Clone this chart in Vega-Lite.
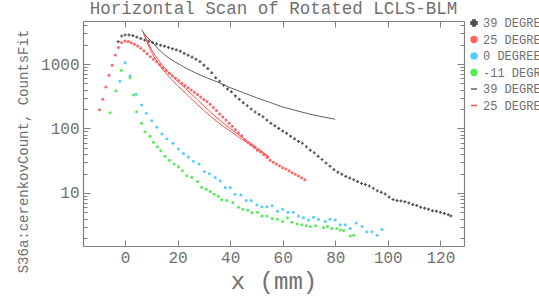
{
"$schema": "https://vega.github.io/schema/vega-lite/v6.json",
"width": 381, "height": 225,
"autosize": "none",
"padding": {"left": 83, "top": 21, "right": 75, "bottom": 50},
"background": "white",
"title": {"text": "Horizontal Scan of Rotated LCLS-BLM", "font": "Liberation Mono", "fontSize": 17.5, "fontWeight": "normal", "color": "#707070", "offset": 0, "anchor": "middle"},
"datasets": {
"pts": [
{"s":"39 DEGREE","x":-2.6,"y":2220},{"s":"39 DEGREE","x":-1.3,"y":2720},{"s":"39 DEGREE","x":0,"y":2820},{"s":"39 DEGREE","x":1.5,"y":2830},{"s":"39 DEGREE","x":3,"y":2760},{"s":"39 DEGREE","x":4.5,"y":2620},{"s":"39 DEGREE","x":6,"y":2480},{"s":"39 DEGREE","x":7.5,"y":2350},{"s":"39 DEGREE","x":9,"y":2250},{"s":"39 DEGREE","x":10.5,"y":2150},{"s":"39 DEGREE","x":12,"y":2060},{"s":"39 DEGREE","x":13.5,"y":1960},{"s":"39 DEGREE","x":15,"y":1890},{"s":"39 DEGREE","x":16.5,"y":1810},{"s":"39 DEGREE","x":18,"y":1730},{"s":"39 DEGREE","x":19.5,"y":1660},{"s":"39 DEGREE","x":21,"y":1580},{"s":"39 DEGREE","x":22.5,"y":1460},{"s":"39 DEGREE","x":24,"y":1370},{"s":"39 DEGREE","x":25.5,"y":1280},{"s":"39 DEGREE","x":27,"y":1190},{"s":"39 DEGREE","x":28.5,"y":1090},{"s":"39 DEGREE","x":30,"y":960},{"s":"39 DEGREE","x":31.5,"y":850},{"s":"39 DEGREE","x":33,"y":730},{"s":"39 DEGREE","x":34.5,"y":610},{"s":"39 DEGREE","x":36,"y":540},{"s":"39 DEGREE","x":37.5,"y":470},{"s":"39 DEGREE","x":39,"y":410},{"s":"39 DEGREE","x":40.5,"y":370},{"s":"39 DEGREE","x":42,"y":320},{"s":"39 DEGREE","x":43.5,"y":283},{"s":"39 DEGREE","x":45,"y":250},{"s":"39 DEGREE","x":46.5,"y":225},{"s":"39 DEGREE","x":48,"y":200},{"s":"39 DEGREE","x":49.5,"y":180},{"s":"39 DEGREE","x":51,"y":165},{"s":"39 DEGREE","x":52.5,"y":152},{"s":"39 DEGREE","x":54,"y":135},{"s":"39 DEGREE","x":55.5,"y":120},{"s":"39 DEGREE","x":57,"y":110},{"s":"39 DEGREE","x":58.5,"y":100},{"s":"39 DEGREE","x":60,"y":91},{"s":"39 DEGREE","x":61.5,"y":84},{"s":"39 DEGREE","x":63,"y":76},{"s":"39 DEGREE","x":64.5,"y":69},{"s":"39 DEGREE","x":66,"y":63},{"s":"39 DEGREE","x":67.5,"y":59},{"s":"39 DEGREE","x":69,"y":52},{"s":"39 DEGREE","x":70.5,"y":46},{"s":"39 DEGREE","x":72,"y":42},{"s":"39 DEGREE","x":73.5,"y":37},{"s":"39 DEGREE","x":75,"y":33},{"s":"39 DEGREE","x":76.5,"y":29},{"s":"39 DEGREE","x":78,"y":26},{"s":"39 DEGREE","x":79.5,"y":23},{"s":"39 DEGREE","x":81,"y":21},{"s":"39 DEGREE","x":82.5,"y":19.5},{"s":"39 DEGREE","x":84,"y":18},{"s":"39 DEGREE","x":85.5,"y":17},{"s":"39 DEGREE","x":87,"y":16},{"s":"39 DEGREE","x":88.5,"y":15},{"s":"39 DEGREE","x":90,"y":14},{"s":"39 DEGREE","x":91.5,"y":13.5},{"s":"39 DEGREE","x":93,"y":12.8},{"s":"39 DEGREE","x":94.5,"y":11.8},{"s":"39 DEGREE","x":96,"y":10.8},{"s":"39 DEGREE","x":97.5,"y":10.2},{"s":"39 DEGREE","x":99,"y":9.6},{"s":"39 DEGREE","x":100.5,"y":8.6},{"s":"39 DEGREE","x":102,"y":7.9},{"s":"39 DEGREE","x":103.5,"y":7.6},{"s":"39 DEGREE","x":105,"y":7.5},{"s":"39 DEGREE","x":106.5,"y":7.3},{"s":"39 DEGREE","x":108,"y":7.0},{"s":"39 DEGREE","x":109.5,"y":6.6},{"s":"39 DEGREE","x":111,"y":6.4},{"s":"39 DEGREE","x":112.5,"y":6.0},{"s":"39 DEGREE","x":114,"y":5.8},{"s":"39 DEGREE","x":115.5,"y":5.6},{"s":"39 DEGREE","x":117,"y":5.3},{"s":"39 DEGREE","x":118.5,"y":5.2},{"s":"39 DEGREE","x":120,"y":5.0},{"s":"39 DEGREE","x":121.5,"y":4.8},{"s":"39 DEGREE","x":123,"y":4.6},{"s":"39 DEGREE","x":124,"y":4.4},
{"s":"25 DEGREE","x":-9.7,"y":195},{"s":"25 DEGREE","x":-8.5,"y":285},{"s":"25 DEGREE","x":-7.3,"y":440},{"s":"25 DEGREE","x":-6.1,"y":670},{"s":"25 DEGREE","x":-4.9,"y":960},{"s":"25 DEGREE","x":-3.7,"y":1380},{"s":"25 DEGREE","x":-2.5,"y":1800},{"s":"25 DEGREE","x":-1.3,"y":2150},{"s":"25 DEGREE","x":0,"y":2280},{"s":"25 DEGREE","x":1.2,"y":2230},{"s":"25 DEGREE","x":2.4,"y":2130},{"s":"25 DEGREE","x":3.6,"y":2020},{"s":"25 DEGREE","x":4.8,"y":1900},{"s":"25 DEGREE","x":6,"y":1760},{"s":"25 DEGREE","x":7.2,"y":1600},{"s":"25 DEGREE","x":8.4,"y":1440},{"s":"25 DEGREE","x":9.6,"y":1300},{"s":"25 DEGREE","x":10.8,"y":1190},{"s":"25 DEGREE","x":12,"y":1080},{"s":"25 DEGREE","x":13.2,"y":970},{"s":"25 DEGREE","x":14.4,"y":870},{"s":"25 DEGREE","x":15.6,"y":790},{"s":"25 DEGREE","x":16.8,"y":720},{"s":"25 DEGREE","x":18,"y":660},{"s":"25 DEGREE","x":19.2,"y":605},{"s":"25 DEGREE","x":20.4,"y":555},{"s":"25 DEGREE","x":21.6,"y":505},{"s":"25 DEGREE","x":22.8,"y":465},{"s":"25 DEGREE","x":24,"y":430},{"s":"25 DEGREE","x":25.2,"y":395},{"s":"25 DEGREE","x":26.4,"y":365},{"s":"25 DEGREE","x":27.6,"y":335},{"s":"25 DEGREE","x":28.8,"y":308},{"s":"25 DEGREE","x":30,"y":282},{"s":"25 DEGREE","x":31.2,"y":262},{"s":"25 DEGREE","x":32.4,"y":238},{"s":"25 DEGREE","x":33.6,"y":212},{"s":"25 DEGREE","x":34.8,"y":190},{"s":"25 DEGREE","x":36,"y":168},{"s":"25 DEGREE","x":37.2,"y":150},{"s":"25 DEGREE","x":38.4,"y":135},{"s":"25 DEGREE","x":39.6,"y":120},{"s":"25 DEGREE","x":40.8,"y":108},{"s":"25 DEGREE","x":42,"y":96},{"s":"25 DEGREE","x":43.2,"y":86},{"s":"25 DEGREE","x":44.4,"y":77},{"s":"25 DEGREE","x":45.6,"y":67},{"s":"25 DEGREE","x":46.8,"y":61},{"s":"25 DEGREE","x":48,"y":56},{"s":"25 DEGREE","x":49.2,"y":51},{"s":"25 DEGREE","x":50.4,"y":46},{"s":"25 DEGREE","x":51.6,"y":43},{"s":"25 DEGREE","x":52.8,"y":39},{"s":"25 DEGREE","x":54,"y":35.5},{"s":"25 DEGREE","x":55.2,"y":32},{"s":"25 DEGREE","x":56.4,"y":30},{"s":"25 DEGREE","x":57.6,"y":28},{"s":"25 DEGREE","x":58.8,"y":26.5},{"s":"25 DEGREE","x":60,"y":24.5},{"s":"25 DEGREE","x":61.2,"y":23.5},{"s":"25 DEGREE","x":62.4,"y":22},{"s":"25 DEGREE","x":63.6,"y":20.5},{"s":"25 DEGREE","x":64.8,"y":19.5},{"s":"25 DEGREE","x":66,"y":18.3},{"s":"25 DEGREE","x":67.2,"y":17.2},{"s":"25 DEGREE","x":68.4,"y":16},
{"s":"0 DEGREE","x":-1.9,"y":540},{"s":"0 DEGREE","x":0,"y":1050},{"s":"0 DEGREE","x":1.9,"y":660},{"s":"0 DEGREE","x":4.2,"y":340},{"s":"0 DEGREE","x":6.3,"y":231},{"s":"0 DEGREE","x":8.1,"y":172},{"s":"0 DEGREE","x":10.2,"y":132},{"s":"0 DEGREE","x":12.1,"y":104},{"s":"0 DEGREE","x":14,"y":82},{"s":"0 DEGREE","x":15.9,"y":69},{"s":"0 DEGREE","x":18.2,"y":59},{"s":"0 DEGREE","x":20.3,"y":48},{"s":"0 DEGREE","x":22.2,"y":41},{"s":"0 DEGREE","x":24.1,"y":36},{"s":"0 DEGREE","x":26,"y":31},{"s":"0 DEGREE","x":28.2,"y":28},{"s":"0 DEGREE","x":30.2,"y":21.5},{"s":"0 DEGREE","x":32.1,"y":19.8},{"s":"0 DEGREE","x":34.3,"y":17.3},{"s":"0 DEGREE","x":36.2,"y":15.3},{"s":"0 DEGREE","x":38.1,"y":12.1},{"s":"0 DEGREE","x":40,"y":12.1},{"s":"0 DEGREE","x":41.9,"y":9.5},{"s":"0 DEGREE","x":44.1,"y":9.3},{"s":"0 DEGREE","x":46.1,"y":7.6},{"s":"0 DEGREE","x":48,"y":7.6},{"s":"0 DEGREE","x":50.2,"y":6.5},{"s":"0 DEGREE","x":52.1,"y":6.1},{"s":"0 DEGREE","x":54,"y":6.1},{"s":"0 DEGREE","x":56,"y":6.3},{"s":"0 DEGREE","x":58,"y":5.2},{"s":"0 DEGREE","x":60,"y":5.6},{"s":"0 DEGREE","x":62,"y":5.0},{"s":"0 DEGREE","x":64,"y":5.0},{"s":"0 DEGREE","x":66,"y":4.4},{"s":"0 DEGREE","x":67.9,"y":4.1},{"s":"0 DEGREE","x":69.8,"y":3.8},{"s":"0 DEGREE","x":71.7,"y":4.2},{"s":"0 DEGREE","x":73.6,"y":3.9},{"s":"0 DEGREE","x":76.2,"y":3.6},{"s":"0 DEGREE","x":78,"y":3.9},{"s":"0 DEGREE","x":80,"y":3.8},{"s":"0 DEGREE","x":81.9,"y":3.2},{"s":"0 DEGREE","x":83.8,"y":3.2},{"s":"0 DEGREE","x":85.7,"y":2.8},{"s":"0 DEGREE","x":88,"y":3.4},{"s":"0 DEGREE","x":90.2,"y":3.0},{"s":"0 DEGREE","x":92,"y":2.5},{"s":"0 DEGREE","x":94,"y":2.5},{"s":"0 DEGREE","x":95.9,"y":2.2},{"s":"0 DEGREE","x":97.8,"y":2.7},
{"s":"-11 DEGREE","x":-5.7,"y":175},{"s":"-11 DEGREE","x":-3.5,"y":385},{"s":"-11 DEGREE","x":-1.4,"y":800},{"s":"-11 DEGREE","x":1.9,"y":610},{"s":"-11 DEGREE","x":3.2,"y":330},{"s":"-11 DEGREE","x":4.4,"y":182},{"s":"-11 DEGREE","x":6.3,"y":120},{"s":"-11 DEGREE","x":7.6,"y":89},{"s":"-11 DEGREE","x":9.5,"y":76},{"s":"-11 DEGREE","x":10.8,"y":61},{"s":"-11 DEGREE","x":12.3,"y":52},{"s":"-11 DEGREE","x":13.6,"y":45},{"s":"-11 DEGREE","x":15.2,"y":37},{"s":"-11 DEGREE","x":16.9,"y":32},{"s":"-11 DEGREE","x":18.7,"y":28},{"s":"-11 DEGREE","x":20.3,"y":25.5},{"s":"-11 DEGREE","x":21.8,"y":22},{"s":"-11 DEGREE","x":23.5,"y":18.4},{"s":"-11 DEGREE","x":25.4,"y":17.5},{"s":"-11 DEGREE","x":27.6,"y":15},{"s":"-11 DEGREE","x":29.2,"y":12.2},{"s":"-11 DEGREE","x":30.9,"y":11.4},{"s":"-11 DEGREE","x":32.4,"y":10.5},{"s":"-11 DEGREE","x":33.9,"y":9.5},{"s":"-11 DEGREE","x":35.5,"y":8.9},{"s":"-11 DEGREE","x":36.8,"y":7.8},{"s":"-11 DEGREE","x":38.7,"y":7.6},{"s":"-11 DEGREE","x":41,"y":7.1},{"s":"-11 DEGREE","x":43.2,"y":6.0},{"s":"-11 DEGREE","x":44.8,"y":5.6},{"s":"-11 DEGREE","x":46.7,"y":5.4},{"s":"-11 DEGREE","x":48.3,"y":4.9},{"s":"-11 DEGREE","x":50.4,"y":5.0},{"s":"-11 DEGREE","x":52.1,"y":4.4},{"s":"-11 DEGREE","x":54,"y":4.4},{"s":"-11 DEGREE","x":56,"y":4.0},{"s":"-11 DEGREE","x":58,"y":3.9},{"s":"-11 DEGREE","x":60,"y":3.6},{"s":"-11 DEGREE","x":61.8,"y":4.1},{"s":"-11 DEGREE","x":63.5,"y":3.5},{"s":"-11 DEGREE","x":65.5,"y":3.3},{"s":"-11 DEGREE","x":67.3,"y":3.2},{"s":"-11 DEGREE","x":69,"y":3.1},{"s":"-11 DEGREE","x":70.5,"y":3.0},{"s":"-11 DEGREE","x":72.5,"y":3.1},{"s":"-11 DEGREE","x":75.5,"y":2.9},{"s":"-11 DEGREE","x":77,"y":3.0},{"s":"-11 DEGREE","x":78.7,"y":2.8},{"s":"-11 DEGREE","x":80.6,"y":2.8},{"s":"-11 DEGREE","x":81.9,"y":2.65},{"s":"-11 DEGREE","x":83.2,"y":2.6},{"s":"-11 DEGREE","x":85.7,"y":2.15},{"s":"-11 DEGREE","x":87,"y":2.2}
],
"fits": [
{"s":"39 DEGREE (fit)","k":"a","x":6.3,"y":3400},{"s":"39 DEGREE (fit)","k":"a","x":8,"y":2700},{"s":"39 DEGREE (fit)","k":"a","x":10.8,"y":2090},{"s":"39 DEGREE (fit)","k":"a","x":13,"y":1650},{"s":"39 DEGREE (fit)","k":"a","x":15.9,"y":1300},{"s":"39 DEGREE (fit)","k":"a","x":19,"y":1080},{"s":"39 DEGREE (fit)","k":"a","x":22.2,"y":910},{"s":"39 DEGREE (fit)","k":"a","x":25,"y":790},{"s":"39 DEGREE (fit)","k":"a","x":28.6,"y":675},{"s":"39 DEGREE (fit)","k":"a","x":32,"y":590},{"s":"39 DEGREE (fit)","k":"a","x":34.9,"y":532},{"s":"39 DEGREE (fit)","k":"a","x":40,"y":430},{"s":"39 DEGREE (fit)","k":"a","x":45,"y":360},{"s":"39 DEGREE (fit)","k":"a","x":50,"y":300},{"s":"39 DEGREE (fit)","k":"a","x":55,"y":255},{"s":"39 DEGREE (fit)","k":"a","x":60,"y":215},{"s":"39 DEGREE (fit)","k":"a","x":65,"y":190},{"s":"39 DEGREE (fit)","k":"a","x":70,"y":168},{"s":"39 DEGREE (fit)","k":"a","x":75,"y":152},{"s":"39 DEGREE (fit)","k":"a","x":80,"y":139},
{"s":"25 DEGREE (fit)","k":"a","x":7,"y":3000},{"s":"25 DEGREE (fit)","k":"a","x":8,"y":2400},{"s":"25 DEGREE (fit)","k":"a","x":9,"y":1900},{"s":"25 DEGREE (fit)","k":"a","x":10,"y":1550},{"s":"25 DEGREE (fit)","k":"a","x":11,"y":1300},{"s":"25 DEGREE (fit)","k":"a","x":12.5,"y":1050},{"s":"25 DEGREE (fit)","k":"a","x":14,"y":860},{"s":"25 DEGREE (fit)","k":"a","x":16,"y":680},{"s":"25 DEGREE (fit)","k":"a","x":18,"y":560},{"s":"25 DEGREE (fit)","k":"a","x":20,"y":460},{"s":"25 DEGREE (fit)","k":"a","x":22.5,"y":370},{"s":"25 DEGREE (fit)","k":"a","x":25,"y":295},{"s":"25 DEGREE (fit)","k":"a","x":27.5,"y":235},{"s":"25 DEGREE (fit)","k":"a","x":30,"y":190},{"s":"25 DEGREE (fit)","k":"a","x":32.5,"y":155},{"s":"25 DEGREE (fit)","k":"a","x":35,"y":128},{"s":"25 DEGREE (fit)","k":"a","x":37.5,"y":107},{"s":"25 DEGREE (fit)","k":"a","x":40,"y":91},{"s":"25 DEGREE (fit)","k":"a","x":42.5,"y":77},{"s":"25 DEGREE (fit)","k":"a","x":45,"y":66},{"s":"25 DEGREE (fit)","k":"a","x":47.5,"y":56},{"s":"25 DEGREE (fit)","k":"a","x":50,"y":48},{"s":"25 DEGREE (fit)","k":"a","x":52.5,"y":41},{"s":"25 DEGREE (fit)","k":"a","x":55,"y":35},
{"s":"25 DEGREE (fit)","k":"b","x":7,"y":3000},{"s":"25 DEGREE (fit)","k":"b","x":8,"y":2500},{"s":"25 DEGREE (fit)","k":"b","x":9,"y":2050},{"s":"25 DEGREE (fit)","k":"b","x":10,"y":1700},{"s":"25 DEGREE (fit)","k":"b","x":11,"y":1450},{"s":"25 DEGREE (fit)","k":"b","x":12.5,"y":1180},{"s":"25 DEGREE (fit)","k":"b","x":14,"y":980},{"s":"25 DEGREE (fit)","k":"b","x":16,"y":790},{"s":"25 DEGREE (fit)","k":"b","x":18,"y":650},{"s":"25 DEGREE (fit)","k":"b","x":20,"y":540},{"s":"25 DEGREE (fit)","k":"b","x":22.5,"y":440},{"s":"25 DEGREE (fit)","k":"b","x":25,"y":350},{"s":"25 DEGREE (fit)","k":"b","x":27.5,"y":280},{"s":"25 DEGREE (fit)","k":"b","x":30,"y":225},{"s":"25 DEGREE (fit)","k":"b","x":32.5,"y":180},{"s":"25 DEGREE (fit)","k":"b","x":35,"y":146},{"s":"25 DEGREE (fit)","k":"b","x":37.5,"y":120},{"s":"25 DEGREE (fit)","k":"b","x":40,"y":100},{"s":"25 DEGREE (fit)","k":"b","x":42.5,"y":84},{"s":"25 DEGREE (fit)","k":"b","x":45,"y":71},{"s":"25 DEGREE (fit)","k":"b","x":47.5,"y":60},{"s":"25 DEGREE (fit)","k":"b","x":50,"y":51},{"s":"25 DEGREE (fit)","k":"b","x":52.5,"y":43},{"s":"25 DEGREE (fit)","k":"b","x":55,"y":36}
]
},
"config": {
"view": {"stroke": null},
"axis": {"domainColor": "#808080", "tickColor": "#808080", "labelColor": "#707070", "titleColor": "#707070", "labelFont": "Liberation Mono", "titleFont": "Liberation Mono", "titleFontWeight": "normal", "grid": false, "domainWidth": 1.2, "tickWidth": 1},
"legend": {"labelFont": "Liberation Mono", "labelFontSize": 12, "labelColor": "#707070", "symbolSize": 36, "symbolStrokeWidth": 1.5, "rowPadding": 4.5, "labelOffset": 3, "padding": 0}
},
"layer": [
{
"data": {"name": "pts"},
"mark": {"type": "point", "filled": true, "size": 9, "opacity": 1},
"encoding": {
"x": {"field": "x", "type": "quantitative", "scale": {"domain": [-16, 129], "nice": false, "zero": false},
 "axis": {"orient": "bottom", "values": [0,20,40,60,80,100,120], "tickSize": -6, "labelFontSize": 16, "labelPadding": 9, "labelFlush": false, "title": "x (mm)", "titleFontSize": 24, "titlePadding": 4}},
"y": {"field": "y", "type": "quantitative", "scale": {"type": "log", "domain": [1.5, 4650], "nice": false},
 "axis": {"orient": "left", "values": [2,3,4,5,6,7,8,9,10,20,30,40,50,60,70,80,90,100,200,300,400,500,600,700,800,900,1000,2000,3000,4000], "format": "d",
  "labelExpr": "datum.value == 10 || datum.value == 100 || datum.value == 1000 ? datum.label : ''",
  "tickSize": {"condition": {"test": "datum.value == 10 || datum.value == 100 || datum.value == 1000", "value": -7}, "value": -4},
  "labelFontSize": 16, "labelPadding": 11, "title": "S36a:cerenkovCount, CountsFit", "titleFontSize": 14, "titlePadding": 10, "titleY": 130}},
"color": {"field": "s", "type": "nominal",
 "scale": {"domain": ["39 DEGREE", "25 DEGREE", "0 DEGREE", "-11 DEGREE", "39 DEGREE (fit)", "25 DEGREE (fit)"], "range": ["#505050", "#ff6666", "#55ccff", "#55ee55", "#606060", "#ff5050"]},
 "legend": {"title": null, "orient": "none", "legendX": 385, "legendY": -4, "labelExpr": "replace(datum.label, ' (fit)', '')"}},
"shape": {"field": "s", "type": "nominal",
 "scale": {"domain": ["39 DEGREE", "25 DEGREE", "0 DEGREE", "-11 DEGREE", "39 DEGREE (fit)", "25 DEGREE (fit)"], "range": ["cross", "circle", "circle", "circle", "stroke", "stroke"]},
 "legend": {"title": null, "orient": "none", "legendX": 385, "legendY": -4, "labelExpr": "replace(datum.label, ' (fit)', '')"}}
}
},
{
"data": {"name": "fits"},
"mark": {"type": "line", "strokeWidth": 1},
"encoding": {
"x": {"field": "x", "type": "quantitative", "axis": {"orient": "top", "values": [0,20,40,60,80,100,120], "tickSize": -6, "labels": false, "title": null, "minExtent": 0, "maxExtent": 0}},
"y": {"field": "y", "type": "quantitative", "axis": {"orient": "right", "values": [2,3,4,5,6,7,8,9,10,20,30,40,50,60,70,80,90,100,200,300,400,500,600,700,800,900,1000,2000,3000,4000], "labels": false, "title": null, "minExtent": 0, "maxExtent": 0,
  "tickSize": {"condition": {"test": "datum.value == 10 || datum.value == 100 || datum.value == 1000", "value": -7}, "value": -4}}},
"color": {"field": "s", "type": "nominal"},
"detail": {"field": "k"}
}
}
],
"resolve": {"axis": {"x": "independent", "y": "independent"}}
}
